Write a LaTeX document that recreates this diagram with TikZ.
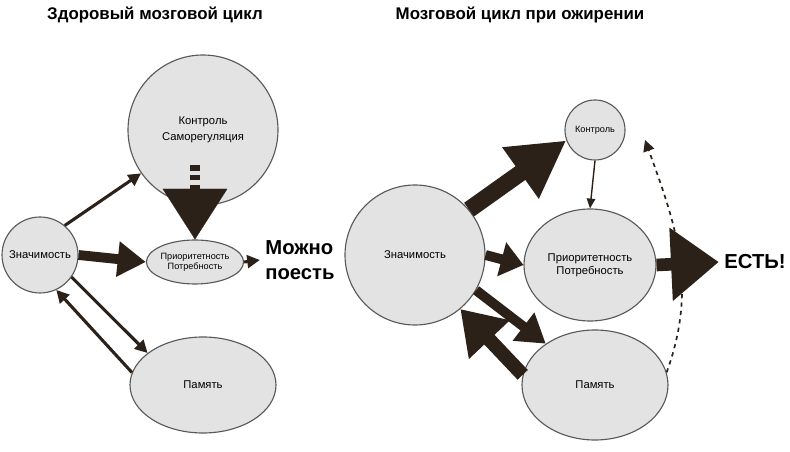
\documentclass[tikz,border=0pt]{standalone}
\usepackage{fontspec}
\setmainfont{Liberation Sans}
\usetikzlibrary{arrows.meta,shapes.geometric}
\definecolor{ink}{HTML}{2B2118}
\begin{document}
\begin{tikzpicture}[x=0.025cm, y=-0.025cm, ink, line width=1.2pt,
  blob/.style={draw=gray!70!black, line width=0.8pt, fill=gray!22, ellipse, inner sep=0pt, font=\fontsize{8}{9}\selectfont, align=center, text=black},
  thin/.style={line width=2.2pt, -{Triangle[length=9pt, width=9pt]}},
  fat/.style={line width=7pt, -{Triangle[length=20pt, width=24pt]}},
  huge/.style={line width=9pt, -{Triangle[length=34pt, width=50pt]}}]
\useasboundingbox (0,0) rectangle (790,452);

% ============================
% Left: healthy cycle
% ============================
\node[font=\bfseries\large, text=black] (t1) at (155,15) {Здоровый мозговой цикл};
\node[blob, circle, minimum size=150*0.025cm] (kontr) at (203,130) {Контроль\\[2pt]Саморегуляция};
\node[blob, circle, minimum width=76*0.025cm, minimum height=70*0.025cm] (znach) at (40,255) {Значимость};
\node[blob, ellipse, minimum width=92*0.025cm, minimum height=44*0.025cm, font=\fontsize{6.5}{7}\selectfont] (prior) at (195,262) {Приоритетность\\Потребность};
\node[blob, ellipse, minimum width=146*0.025cm, minimum height=96*0.025cm] (pam) at (203,385) {Память};
\node[font=\bfseries\Large, align=left, text=black] (eat) at (300,260) {Можно\\поесть};

\coordinate (d1) at (195,165);
\coordinate (d2) at (195,202);
\draw[thin] (znach.50) -- (kontr.215);
\draw[fat] (znach.east) -- (prior.west);
\draw[line width=7pt, dash pattern=on 4pt off 3pt] (d1) -- (d2);
\draw[line width=0.1pt, -{Triangle[length=36pt, width=46pt]}] (d2) -- (prior.north);
\draw[thin] (prior.east) -- (eat.west);
\draw[thin] (znach.-35) -- (pam.150);
\draw[thin] (pam.170) -- (znach.-65);

% ============================
% Right: obesity cycle
% ============================
\node[font=\bfseries\large, text=black] (t2) at (520,15) {Мозговой цикл при ожирении};
\node[blob, circle, minimum size=60*0.025cm, font=\fontsize{6.5}{7}\selectfont] (kontr2) at (595,130) {Контроль};
\node[blob, circle, minimum size=140*0.025cm] (znach2) at (415,255) {Значимость};
\node[blob, ellipse, minimum width=132*0.025cm, minimum height=112*0.025cm] (prior2) at (590,265) {Приоритетность\\Потребность};
\node[blob, ellipse, minimum width=146*0.025cm, minimum height=110*0.025cm] (pam2) at (595,385) {Память};
\node[font=\bfseries\Large, text=black] (est) at (755,262) {ЕСТЬ!};

\draw[line width=12pt, -{Triangle[length=40pt, width=42pt]}] (znach2.40) -- (kontr2.200);
\draw[line width=1pt, -{Triangle[length=7pt, width=6pt]}] (kontr2.south) -- (prior2.north);
\draw[fat, -{Triangle[length=16pt, width=24pt]}] (znach2.east) -- (prior2.west);
\draw[huge] (prior2.east) -- (est.west);
\draw[fat] (znach2.-30) -- (pam2.140);
\draw[line width=10pt, -{Triangle[length=30pt, width=38pt]}] (pam2.172) -- (znach2.-50);
\draw[line width=1.2pt, dashed, -{Triangle[length=8pt, width=8pt]}] (pam2.10) to[out=70, in=-70] (645,140);
\end{tikzpicture}
\end{document}
